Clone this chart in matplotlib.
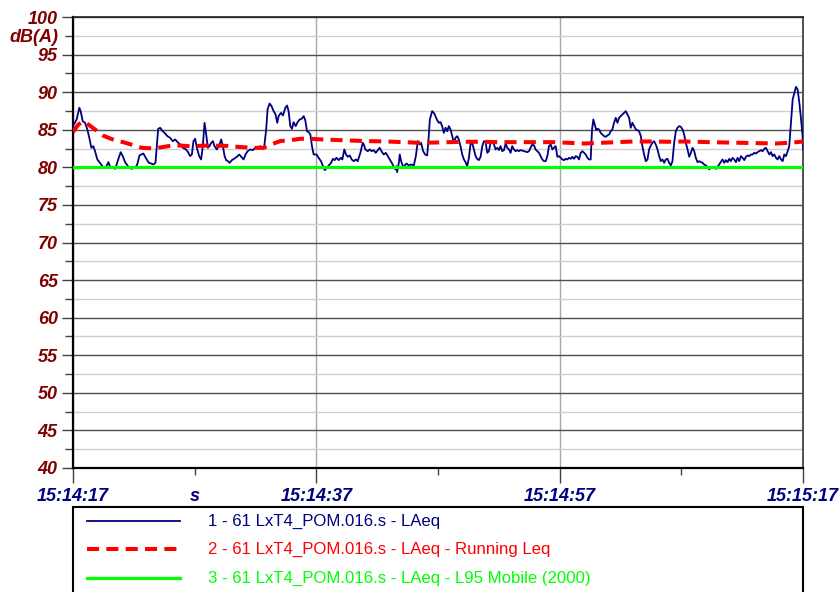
import matplotlib
matplotlib.use("Agg")
import matplotlib.pyplot as plt
from matplotlib.ticker import FixedLocator, FixedFormatter, MultipleLocator, NullFormatter
from matplotlib.patches import Rectangle
from matplotlib.lines import Line2D

# ---------------- data (seconds from 15:14:17, dB(A)) ----------------
t_laeq = [
    0.0, 0.30, 0.52, 0.63, 0.80, 0.99, 1.18, 1.34, 1.51, 1.67, 1.81, 2.00, 2.17, 2.36, 2.50, 2.72, 2.91, 3.05, 3.26, 3.46,
    3.59, 3.76, 3.92, 4.09, 4.28, 4.47, 4.64, 4.83, 5.02, 5.19, 5.32, 5.46, 5.62, 5.79, 5.93, 6.06, 6.23, 6.42, 6.61, 6.78,
    6.89, 7.00, 7.16, 7.38, 7.57, 7.76, 7.98, 8.20, 8.40, 8.59, 8.81, 9.03, 9.22, 9.41, 9.63, 9.77, 9.90, 10.04,
    10.18, 10.37, 10.53, 10.67, 10.81, 10.95, 11.08, 11.22, 11.36, 11.50, 11.63, 11.82, 12.04, 12.18, 12.32, 12.46, 12.59, 12.73, 12.87, 13.06,
    13.28, 13.47, 13.66, 13.83, 14.02, 14.18, 14.35, 14.57, 14.79, 14.98, 15.20, 15.39, 15.61, 15.72, 15.88, 15.99, 16.16, 16.32, 16.49, 16.65,
    16.79, 16.90, 17.09, 17.26, 17.45, 17.59, 17.72, 17.86, 18.00, 18.13, 18.30, 18.46, 18.63, 18.79, 18.96, 19.09, 19.23, 19.37, 19.51, 19.64, 19.78,
    20.00, 20.19, 20.38, 20.55, 20.69, 20.88, 21.02, 21.21, 21.37, 21.51, 21.65, 21.84, 22.03, 22.14, 22.30, 22.44, 22.58, 22.74, 22.91, 23.07,
    23.26, 23.40, 23.62, 23.81, 23.90, 24.03, 24.23, 24.39, 24.55, 24.72, 24.88, 24.99, 25.21, 25.35, 25.54, 25.71, 25.87, 26.04, 26.20, 26.37,
    26.50, 26.58, 26.64, 26.78, 26.86, 26.97, 27.13, 27.27, 27.41, 27.60, 27.79, 28.01, 28.18, 28.34, 28.50, 28.61, 28.78, 28.94, 29.11, 29.22,
    29.33, 29.52, 29.66, 29.79,
    29.93, 30.07, 30.21, 30.34, 30.48, 30.62, 30.75, 30.89, 31.03, 31.17, 31.30, 31.44, 31.58, 31.71, 31.85, 31.99, 32.13, 32.26, 32.40, 32.54,
    32.67, 32.81, 32.95, 33.09, 33.22, 33.36, 33.50, 33.64, 33.77, 33.91, 34.05, 34.18, 34.32, 34.46, 34.60, 34.73, 34.87, 35.01, 35.14, 35.28,
    35.42, 35.56, 35.69, 35.83, 35.97, 36.10, 36.24, 36.38, 36.52, 36.65, 36.79, 37.06, 37.34, 37.48, 37.61, 37.75, 37.89, 38.02, 38.16, 38.30,
    38.44, 38.57, 38.71, 38.85, 38.99, 39.12, 39.26, 39.40, 39.53, 39.67,
    39.81, 39.95, 40.08, 40.22, 40.36, 40.49, 40.63, 40.77, 40.91, 41.04, 41.18, 41.32, 41.45, 41.59, 41.73, 41.87, 42.00, 42.14, 42.28, 42.41,
    42.55, 42.66, 42.77, 42.88, 42.99, 43.10, 43.24, 43.37, 43.51, 43.65, 43.79, 43.92, 44.06, 44.20, 44.33, 44.47, 44.61, 44.75, 44.88, 45.02,
    45.16, 45.29, 45.43, 45.57, 45.71, 45.84, 45.98, 46.12, 46.26, 46.39, 46.53, 46.67, 46.80, 46.94, 47.08, 47.22, 47.35, 47.49, 47.63, 47.76,
    47.90, 48.04, 48.18, 48.31, 48.45, 48.59, 48.72, 48.86, 49.00, 49.14, 49.27, 49.41, 49.55,
    49.68, 49.82, 49.96, 50.10, 50.23, 50.37, 50.51, 50.65, 50.78, 50.92, 51.06, 51.19, 51.33, 51.47, 51.60, 51.74, 51.88, 52.02, 52.15, 52.29,
    52.43, 52.57, 52.70, 52.84, 52.98, 53.11, 53.25, 53.39, 53.53, 53.66, 53.80, 53.94, 54.07, 54.21, 54.35, 54.49, 54.62, 54.76, 54.90, 55.03,
    55.17, 55.31, 55.45, 55.58, 55.72, 55.86, 55.99, 56.13, 56.27, 56.41, 56.54, 56.68, 56.82, 56.95, 57.09, 57.23, 57.37, 57.50, 57.64, 57.78,
    57.91, 58.05, 58.19, 58.33, 58.46, 58.60, 58.74, 58.87, 59.01, 59.15, 59.29, 59.42, 59.56, 59.70, 59.84, 59.97, 60.0,
]
laeq = [
    85.48, 86.37, 87.92, 87.47, 86.14, 85.92, 85.04, 83.93, 82.60, 82.82, 82.15, 81.05, 80.69, 80.25, 79.94, 80.07, 80.69, 80.07, 80.07, 79.80,
    80.38, 81.27, 82.02, 81.49, 80.69, 80.25, 79.94, 79.80, 80.07, 80.07, 80.60, 81.58, 81.71, 81.84, 81.40, 81.05, 80.60, 80.51, 80.38, 80.60,
    82.82, 85.12, 85.26, 84.81, 84.50, 84.15, 83.93, 83.48, 83.71, 83.35, 83.04, 82.60, 82.46, 82.15, 81.49, 81.71, 83.48, 83.79,
    82.60, 81.49, 81.05, 82.82, 85.92, 84.37, 82.60, 82.82, 83.26, 83.48, 82.82, 82.38, 83.04, 83.71, 82.82, 81.49, 80.96, 80.82, 80.60, 80.96,
    81.18, 81.40, 81.71, 81.40, 81.05, 81.71, 82.15, 82.38, 82.29, 82.60, 82.60, 82.82, 82.46, 82.82, 85.04, 87.70, 88.49, 88.14, 87.47, 87.03,
    85.92, 86.81, 87.25, 86.90, 87.92, 88.23, 87.47, 85.48, 85.12, 86.01, 85.48, 86.01, 86.37, 86.45, 86.81, 86.28, 84.81, 84.68, 84.37, 82.82, 81.71,
    81.71, 81.27, 80.82, 80.16, 79.63, 79.94, 80.25, 80.60, 81.13, 80.96, 81.27, 80.96, 81.27, 81.05, 82.38, 81.71, 81.40, 81.58, 81.05, 80.82,
    81.05, 80.82, 81.93, 83.26, 83.04, 82.38, 82.15, 82.38, 82.15, 82.29, 81.93, 82.15, 82.60, 82.15, 81.71, 81.93, 81.49, 81.05, 80.60, 80.07,
    79.72, 80.16, 79.36, 80.60, 81.71, 80.82, 80.07, 80.25, 80.51, 80.25, 80.38, 80.25, 81.49, 83.48, 83.04, 83.26, 82.15, 81.71, 81.58, 83.71,
    86.37, 87.47, 87.25, 86.81,
    86.28, 85.92, 86.01, 85.48, 84.59, 85.26, 84.81, 85.48, 85.04, 84.15, 83.26, 83.93, 84.15, 83.71, 82.82, 81.71, 81.05, 80.69, 80.16, 81.27,
    83.04, 83.26, 82.38, 81.49, 81.13, 80.96, 81.40, 82.82, 83.48, 83.35, 81.93, 82.15, 83.26, 83.48, 83.04, 82.38, 82.60, 82.29, 82.82, 82.15,
    82.29, 83.17, 82.60, 82.38, 81.93, 82.82, 82.38, 82.15, 82.29, 82.15, 82.29, 82.15, 82.02, 82.15, 82.60, 83.04, 82.91, 82.38, 82.15, 81.93,
    81.49, 81.05, 80.82, 80.82, 81.49, 82.82, 83.04, 82.38, 82.60, 82.82,
    81.40, 81.49, 81.27, 81.05, 80.96, 81.13, 81.05, 81.27, 81.13, 81.40, 81.13, 81.49, 81.40, 81.05, 81.93, 82.15, 81.93, 81.71, 81.27, 81.05,
    81.05, 85.04, 86.37, 85.70, 85.04, 85.12, 85.04, 84.59, 84.37, 84.15, 84.06, 84.24, 84.37, 84.81, 85.04, 85.92, 86.59, 85.92, 86.59, 86.81,
    87.03, 87.25, 87.47, 87.03, 86.59, 85.26, 85.92, 85.48, 85.04, 84.95, 84.81, 84.15, 82.82, 81.71, 80.82, 81.05, 82.38, 82.91, 83.26, 83.48,
    83.04, 82.38, 81.49, 80.82, 81.05, 80.60, 81.05, 81.13, 80.60, 80.25, 80.82, 83.26, 84.81,
    85.26, 85.48, 85.39, 85.04, 84.37, 83.26, 82.38, 81.40, 81.93, 82.60, 82.15, 81.27, 80.69, 80.82, 80.69, 80.60, 80.38, 80.25, 80.07, 79.72,
    80.07, 79.94, 80.07, 79.80, 80.07, 80.38, 80.69, 81.05, 80.60, 80.96, 80.69, 81.13, 80.82, 81.27, 81.05, 80.69, 81.27, 80.82, 81.49, 81.27,
    80.96, 81.40, 81.58, 81.49, 81.71, 81.71, 81.93, 81.84, 82.02, 82.15, 82.29, 82.15, 82.46, 82.60, 82.15, 81.71, 82.02, 81.49, 81.71, 81.27,
    81.05, 81.49, 81.05, 80.82, 81.71, 81.49, 82.15, 82.82, 85.92, 89.02, 89.91, 90.71, 90.35, 88.58, 86.37, 84.15, 82.40,
]

t_running = [0, 0.44, 0.85, 1.26, 2.09, 2.50, 3.59, 4.14, 5.24, 5.65, 6.75, 7.02, 8.12, 8.81, 9.63, 11.0, 12.65,
             13.74, 14.84, 15.67, 16.22, 17.04, 17.86, 18.68, 19.51, 20.6, 22.25, 23.89, 25.54, 27.19, 28.56, 29.79,
             32.13, 33.77, 34.87, 36.52, 38.16, 39.53, 42.0, 43.37, 44.75, 46.12, 47.49, 48.86, 50.37, 52.29, 55.03,
             57.78, 58.87, 59.5, 60.0]
running_leq = [84.7, 85.7, 86.1, 85.7, 84.7, 84.2, 83.5, 83.35, 82.8, 82.6, 82.5, 82.6, 82.9, 82.9, 82.8, 82.9, 82.85,
               82.7, 82.6, 82.6, 83.0, 83.5, 83.6, 83.8, 83.8, 83.7, 83.6, 83.5, 83.45, 83.35, 83.26, 83.3,
               83.4, 83.4, 83.35, 83.35, 83.35, 83.35, 83.17, 83.26, 83.35, 83.44, 83.44, 83.4, 83.44, 83.35, 83.26,
               83.17, 83.26, 83.35, 83.44]

t_l95 = [0, 60]
l95 = [80.1, 80.1]

x_major = [0, 20, 40, 60]
x_labels = ["15:14:17", "15:14:37", "15:14:57", "15:15:17"]
x_minor = [10, 30, 50]
x_minor_labels = ["s", "", ""]
y_major = list(range(40, 101, 5))
y_unit = "dB(A)"
legend_labels = [
    "1 - 61 LxT4_POM.016.s - LAeq",
    "2 - 61 LxT4_POM.016.s - LAeq - Running Leq",
    "3 - 61 LxT4_POM.016.s - LAeq - L95 Mobile (2000)",
]

# ---------------- style ----------------
BLUE = "#000080"
RED = "#ff0000"
GREEN = "#00ff00"
DARKRED = "#800000"
FONT = ["Liberation Sans", "DejaVu Sans"]

W, H = 840, 592
fig = plt.figure(figsize=(W / 100, H / 100), dpi=100)
ax = fig.add_axes([73 / W, 1 - 468 / H, 730 / W, 451 / H])

ax.plot(t_laeq, laeq, color=BLUE, lw=1.3, zorder=3)
rl, = ax.plot(t_running, running_leq, color=RED, lw=2.9, zorder=4)
rl.set_dashes((3, 1.8))
ax.plot(t_l95, l95, color=GREEN, lw=2.3, zorder=5)

ax.set_xlim(0, 60)
ax.set_ylim(40, 100)

ax.yaxis.set_major_locator(FixedLocator(y_major))
ax.yaxis.set_minor_locator(MultipleLocator(2.5))
ax.yaxis.set_minor_formatter(NullFormatter())
ax.xaxis.set_major_locator(FixedLocator(x_major))
ax.xaxis.set_major_formatter(FixedFormatter(x_labels))
ax.xaxis.set_minor_locator(FixedLocator(x_minor))
ax.xaxis.set_minor_formatter(FixedFormatter(x_minor_labels))

ax.set_axisbelow(True)
ax.grid(True, which="major", axis="y", color="#505050", lw=1.0)
ax.grid(True, which="minor", axis="y", color="#cfcfcf", lw=1.0)
ax.grid(True, which="major", axis="x", color="#a8a8a8", lw=1.0)

ax.tick_params(axis="y", which="major", length=8, width=1, color="#404040", pad=3,
               labelcolor=DARKRED, labelsize=13)
ax.tick_params(axis="y", which="minor", length=5.5, width=1, color="#404040")
ax.tick_params(axis="x", which="major", length=10.8, width=1, color="#404040", pad=3.3,
               labelcolor=BLUE, labelsize=13)
ax.tick_params(axis="x", which="minor", length=5, width=1, color="#404040", pad=9.1,
               labelcolor=BLUE, labelsize=13)
for lab in ax.get_yticklabels() + ax.get_xticklabels() + ax.get_xticklabels(minor=True):
    lab.set_fontfamily(FONT)
    lab.set_fontweight("bold")
    lab.set_fontstyle("italic")

for s in ("left", "bottom"):
    ax.spines[s].set_color("black")
    ax.spines[s].set_linewidth(1.6)
ax.spines["top"].set_color("#202020")
ax.spines["top"].set_linewidth(1.2)
ax.spines["right"].set_color("#505050")
ax.spines["right"].set_linewidth(1.4)

fig.text(58 / W, 1 - 37 / H, y_unit, ha="right", va="center", color=DARKRED,
         fontsize=13, fontweight="bold", fontstyle="italic", family=FONT)

# ---------------- legend box ----------------
fig.patches.append(Rectangle((73 / W, -0.05), 730 / W, 0.05 + (1 - 507 / H),
                             transform=fig.transFigure, fill=False,
                             edgecolor="black", lw=1.5, clip_on=False))
rows_y = [521, 549, 578]
styles = [dict(color=BLUE, lw=1.3), dict(color=RED, lw=2.9), dict(color=GREEN, lw=2.3)]
for i, (yy, lab, st) in enumerate(zip(rows_y, legend_labels, styles)):
    fy = 1 - yy / H
    ln = Line2D([87 / W, 180 / W], [fy, fy], transform=fig.transFigure, **st)
    if i == 1:
        ln.set_dashes((3, 1.8))
    fig.lines.append(ln)
    fig.text(208 / W, fy, lab, ha="left", va="center", color=st["color"],
             fontsize=12.1, family=FONT)

fig.savefig("out.png", dpi=100)
